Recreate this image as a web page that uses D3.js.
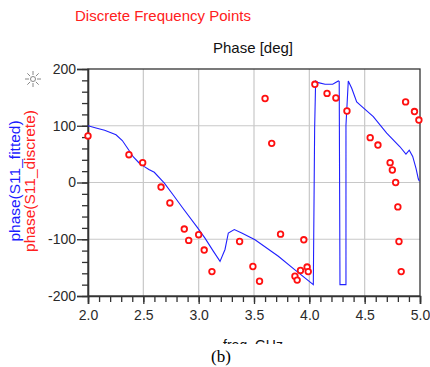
<!DOCTYPE html>
<html>
<head>
<meta charset="utf-8">
<script src="https://cdn.jsdelivr.net/npm/d3@7"></script>
<style>
  body { margin: 0; background: #fff; }
  svg { display: block; font-family: Arial, "Liberation Sans", sans-serif; }
</style>
</head>
<body>
<svg width="430" height="367"></svg>
<script>
// discrete frequency points (red circles)
const discreteFreq = [2.00, 2.37, 2.494, 2.66, 2.74, 2.87, 2.91, 3.00, 3.05, 3.12,
  3.37, 3.49, 3.55, 3.60, 3.66, 3.74, 3.87, 3.89, 3.92, 3.95, 3.98, 3.99,
  4.05, 4.16, 4.24, 4.34, 4.55, 4.62, 4.73, 4.75, 4.78, 4.80, 4.81, 4.83,
  4.87, 4.95, 4.99];
const discretePhase = [82, 49, 35, -8, -36, -82, -102, -92, -119, -157,
  -104, -148, -174, 148, 69, -91, -165, -172, -155, -101, -149, -157,
  173, 157, 149, 126, 79, 66, 35, 22, 0, -43, -104, -157,
  142, 125, 110];

// fitted response (blue line), wraps at +/-180
const fittedFreq = [2.00, 2.072, 2.15, 2.253, 2.31, 2.359, 2.41, 2.464, 2.509, 2.55, 2.599, 2.690, 2.77, 2.856, 2.991,
  3.057, 3.132, 3.193, 3.238, 3.268, 3.322, 3.389, 3.509, 3.720, 3.870, 4.036,
  4.048, 4.057, 4.081, 4.142, 4.211, 4.262, 4.270, 4.277, 4.331, 4.331, 4.352,
  4.383, 4.428, 4.473, 4.578, 4.699, 4.819, 4.873, 4.903, 4.934, 4.964, 4.985, 4.995];
const fittedPhase = [100, 96, 92, 84, 74, 60, 45, 34, 28, 23, 18, -1, -22, -45, -80,
  -98, -121, -139, -118, -89, -83, -89, -101, -130, -154, -180,
  96, 179, 176, 173, 173, 179, 178, -180, -180, 101, 179,
  166, 142, 134, 116, 87, 63, 50, 57, 46, 25, 6, 2];

const xTicks = [2.0, 2.5, 3.0, 3.5, 4.0, 4.5, 5.0];
const yTicks = [200, 100, 0, -100, -200];

const svg = d3.select("svg");
const plotL = 88, plotR = 420, plotT = 69, plotB = 296;

const x = d3.scaleLinear().domain([2, 5]).range([plotL, plotR]);
const y = d3.scaleLinear().domain([-200, 200]).range([plotB, plotT]);

// titles
svg.append("text").attr("x", 75).attr("y", 21)
  .attr("fill", "#ff2020").attr("font-size", 15)
  .text("Discrete Frequency Points");
svg.append("text").attr("x", 253).attr("y", 53)
  .attr("text-anchor", "middle").attr("fill", "#111").attr("font-size", 15)
  .text("Phase [deg]");

// grid
const grid = svg.append("g").attr("stroke", "#c8c8c8").attr("stroke-width", 1.2);
grid.selectAll("line.gx").data(xTicks.slice(1, -1)).enter().append("line")
  .attr("x1", d => x(d)).attr("x2", d => x(d)).attr("y1", plotT).attr("y2", plotB);
grid.selectAll("line.gy").data(yTicks.slice(1, -1)).enter().append("line")
  .attr("x1", plotL).attr("x2", plotR).attr("y1", d => y(d)).attr("y2", d => y(d));

// frame
svg.append("rect").attr("x", plotL).attr("y", plotT)
  .attr("width", plotR - plotL).attr("height", plotB - plotT)
  .attr("fill", "none").attr("stroke", "#333").attr("stroke-width", 1.3);

// axes: minor + major ticks
const xMinor = d3.range(2, 5.001, 0.1);
const yMinor = d3.range(-200, 201, 20);

svg.append("g").attr("transform", `translate(0,${plotB})`)
  .call(d3.axisBottom(x).tickValues(xMinor).tickSize(6).tickFormat(""))
  .call(g => g.select(".domain").remove());
svg.append("g").attr("transform", `translate(0,${plotB})`)
  .call(d3.axisBottom(x).tickValues(xTicks).tickSize(8).tickPadding(6).tickFormat(d3.format(".1f")))
  .call(g => g.select(".domain").attr("stroke", "#333").attr("stroke-width", 1.6));

svg.append("g").attr("transform", `translate(${plotL},0)`)
  .call(d3.axisLeft(y).tickValues(yMinor).tickSize(6).tickFormat(""))
  .call(g => g.select(".domain").remove());
svg.append("g").attr("transform", `translate(${plotL},0)`)
  .call(d3.axisLeft(y).tickValues(yTicks).tickSize(11).tickPadding(1).tickFormat(d => String(d)))
  .call(g => g.select(".domain").attr("stroke", "#333").attr("stroke-width", 1.6));

svg.selectAll(".tick line").attr("stroke", "#333").attr("stroke-width", 1.3);
svg.selectAll(".tick text").attr("font-size", 14).attr("fill", "#2a2a2a")
  .attr("font-family", "Arial, 'Liberation Sans', sans-serif");

// fitted line
const line = d3.line().x((d, i) => x(fittedFreq[i])).y(d => y(d));
svg.append("path").datum(fittedPhase)
  .attr("d", line).attr("fill", "none")
  .attr("stroke", "#2020ff").attr("stroke-width", 1.1);

// discrete points
svg.append("g").selectAll("circle").data(discretePhase).enter().append("circle")
  .attr("cx", (d, i) => x(discreteFreq[i])).attr("cy", d => y(d))
  .attr("r", 2.8).attr("fill", "#fff")
  .attr("stroke", "#ff1010").attr("stroke-width", 1.8);

// y labels
svg.append("text").attr("transform", "translate(20,181) rotate(-90)")
  .attr("text-anchor", "middle").attr("fill", "#1a1aff").attr("font-size", 15.5)
  .text("phase(S11_fitted)");
svg.append("text").attr("transform", "translate(35,181) rotate(-90)")
  .attr("text-anchor", "middle").attr("fill", "#ff2020").attr("font-size", 15.5)
  .text("phase(S11_discrete)");

// sun marker icon
const sun = svg.append("g").attr("transform", "translate(33,79)")
  .attr("stroke", "#888").attr("stroke-width", 1);
sun.append("circle").attr("r", 2.5).attr("fill", "#fff");
sun.selectAll("line").data(d3.range(8)).enter().append("line")
  .attr("x1", d => 4 * Math.cos(d * Math.PI / 4)).attr("y1", d => 4 * Math.sin(d * Math.PI / 4))
  .attr("x2", d => 8 * Math.cos(d * Math.PI / 4)).attr("y2", d => 8 * Math.sin(d * Math.PI / 4));

// x label, cut off by the caption area
svg.append("clipPath").attr("id", "cut").append("rect")
  .attr("x", 0).attr("y", 0).attr("width", 430).attr("height", 344);
svg.append("text").attr("x", 253).attr("y", 349.5).attr("clip-path", "url(#cut)")
  .attr("text-anchor", "middle").attr("fill", "#111").attr("font-size", 14)
  .text("freq, GHz");

svg.append("text").attr("x", 221).attr("y", 362)
  .attr("text-anchor", "middle").attr("fill", "#000").attr("font-size", 17)
  .attr("font-family", "'Liberation Serif', 'Times New Roman', serif")
  .text("(b)");
</script>
</body>
</html>
